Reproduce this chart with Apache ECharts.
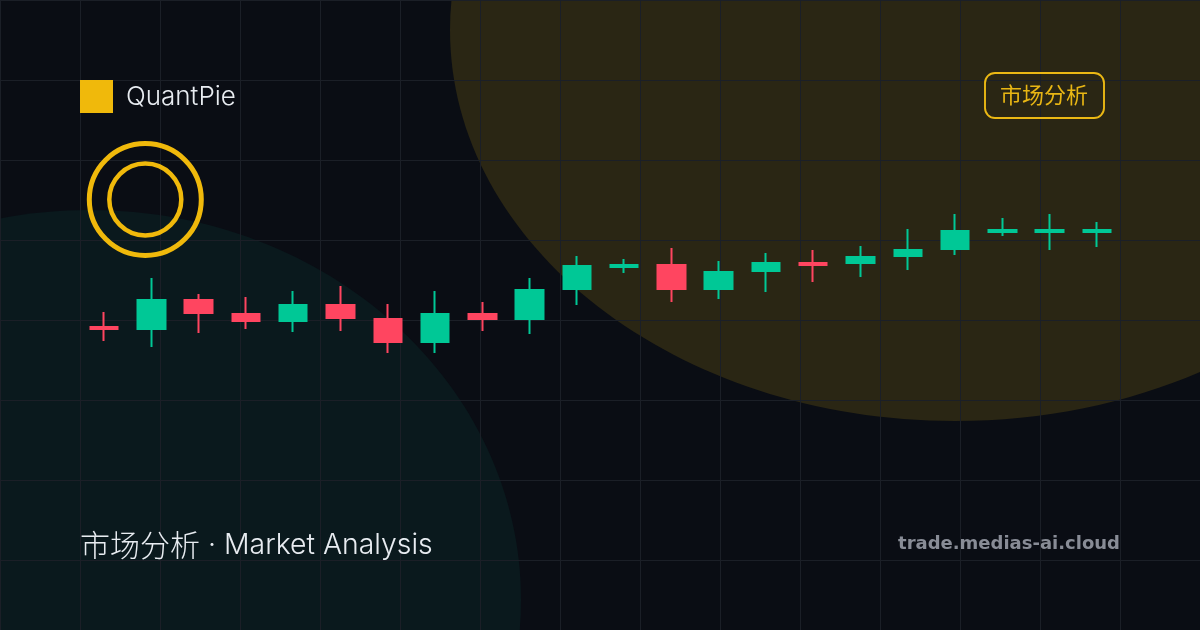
<!DOCTYPE html>
<html>
<head>
<meta charset="utf-8">
<style>html,body{margin:0;padding:0;background:#0a0d14}#c{width:1200px;height:630px}</style>
<script src="https://cdn.jsdelivr.net/npm/echarts@6/dist/echarts.min.js"></script>
</head>
<body>
<div id="c"></div>
<script>
// Price scale: 630 units over the picture height.
var categories = ['1','2','3','4','5','6','7','8','9','10','11','12','13','14','15','16','17','18','19','20','21','22'];
var opens  = [303,301,330,316,309,325,311,288,316,311,341,363,365,341,359,367,367,374,381,398,398,398];
var closes = [301,330,317,309,325,312,288,316,311,340,364,365,341,358,367,365,373,380,399,400,400,400];
var lows   = [289,283,297,301,298,299,277,277,299,296,325,357,328,331,338,348,353,360,375,394,380,383];
var highs  = [318,352,336,333,339,344,326,339,328,352,374,371,382,369,377,380,384,401,416,412,416,408];
var gridTicks = {interval: 80, width: 1200, height: 630};

var GOLD = '#f0b90b', UP = '#00c896', DOWN = '#ff4560';

var chart = echarts.init(document.getElementById('c'), null, {renderer: 'canvas', width: 1200, height: 630});
chart.setOption({
  backgroundColor: '#0a0d14',
  animation: false,
  grid: [
    {left: 0, right: 0, top: 0, bottom: 0, z: 1},
    {left: 80.5, right: 79.5, top: 0, bottom: 0, z: 2}
  ],
  xAxis: [
    {type: 'value', gridIndex: 0, min: 0, max: gridTicks.width, interval: gridTicks.interval,
     axisLine: {show: false}, axisTick: {show: false}, axisLabel: {show: false},
     splitLine: {show: true, lineStyle: {color: '#1b1f27', width: 1}}},
    {type: 'category', gridIndex: 1, data: categories,
     axisLine: {show: false}, axisTick: {show: false}, axisLabel: {show: false}, splitLine: {show: false}}
  ],
  yAxis: [
    {type: 'value', gridIndex: 0, inverse: true, min: 0, max: gridTicks.height, interval: gridTicks.interval,
     axisLine: {show: false}, axisTick: {show: false}, axisLabel: {show: false},
     splitLine: {show: true, lineStyle: {color: '#1b1f27', width: 1}}},
    {type: 'value', gridIndex: 1, min: 0, max: 630,
     axisLine: {show: false}, axisTick: {show: false}, axisLabel: {show: false}, splitLine: {show: false}}
  ],
  series: [{
    type: 'candlestick',
    xAxisIndex: 1,
    yAxisIndex: 1,
    barWidth: 28,
    z: 5,
    itemStyle: {color: UP, color0: DOWN, borderColor: UP, borderColor0: DOWN, borderWidth: 2},
    data: categories.map(function (c, i) { return [opens[i], closes[i], lows[i], highs[i]]; })
  }],
  graphic: {
    elements: [
      {type: 'ellipse', z: -10, silent: true, shape: {cx: 955, cy: 30, rx: 505, ry: 391}, style: {fill: '#2a2614'}},
      {type: 'ellipse', z: -10, silent: true, shape: {cx: 90, cy: 600, rx: 431, ry: 390}, style: {fill: '#0a191d'}},
      {type: 'rect', z: 10, shape: {x: 80, y: 80, width: 33, height: 33}, style: {fill: GOLD}},
      {type: 'text', z: 10, x: 126, y: 97, style: {text: 'QuantPie', fill: '#e8ecf1', font: '300 26px Inter', textVerticalAlign: 'middle'}},
      {type: 'circle', z: 10, shape: {cx: 145.3, cy: 199.5, r: 56}, style: {fill: 'none', stroke: GOLD, lineWidth: 5}},
      {type: 'circle', z: 10, shape: {cx: 145.3, cy: 199.5, r: 36}, style: {fill: 'none', stroke: GOLD, lineWidth: 4.5}},
      {type: 'rect', z: 10, shape: {x: 985, y: 73, width: 119, height: 45, r: 10}, style: {fill: 'none', stroke: '#ebb814', lineWidth: 1.9}},
      {type: 'text', z: 10, x: 1044, y: 95, style: {text: '市场分析', fill: '#e8b614', font: '22px "Noto Sans CJK SC"', textAlign: 'center', textVerticalAlign: 'middle'}},
      {type: 'text', z: 10, x: 80, y: 545, style: {
        text: '{cjk|市场分析}{lat| · Market Analysis}',
        verticalAlign: 'middle',
        rich: {
          cjk: {fill: '#e8ecf1', font: '300 30px "Noto Sans CJK SC"'},
          lat: {fill: '#e8ecf1', font: '300 28.4px Inter'}
        }
      }},
      {type: 'text', z: 10, x: 1120, y: 544, style: {text: 'trade.medias-ai.cloud', fill: '#888c96', font: 'bold 18px "DejaVu Sans"', textAlign: 'right', textVerticalAlign: 'middle'}}
    ]
  }
});
</script>
</body>
</html>
